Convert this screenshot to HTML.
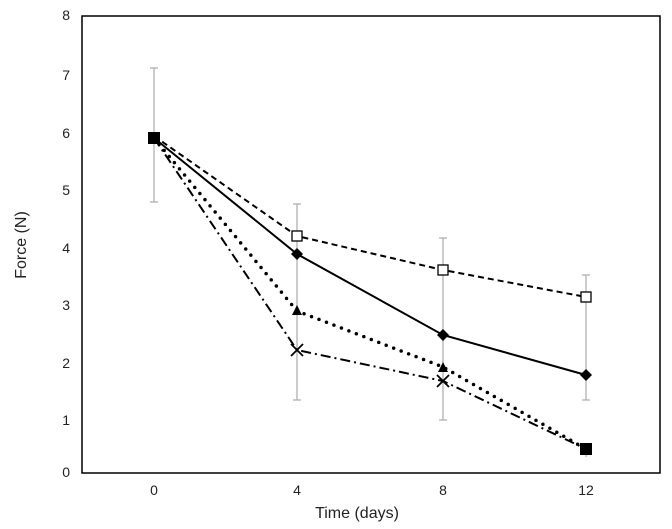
<!DOCTYPE html>
<html><head><meta charset="utf-8"><style>body{margin:0;background:#fff}svg{display:block}text{font-family:"Liberation Sans",sans-serif;fill:#222}</style></head><body>
<svg width="672" height="529" viewBox="0 0 672 529">
<rect x="82" y="16" width="578" height="457" fill="none" stroke="#000" stroke-width="1.5"/>
<g font-size="14" text-anchor="end">
<text x="70" y="477">0</text><text x="70" y="425">1</text><text x="70" y="368">2</text><text x="70" y="310">3</text><text x="70" y="253">4</text><text x="70" y="195">5</text><text x="70" y="138">6</text><text x="70" y="80">7</text><text x="70" y="20">8</text>
</g>
<g font-size="14" text-anchor="middle">
<text x="154" y="495">0</text><text x="297" y="495">4</text><text x="443" y="495">8</text><text x="586" y="495">12</text>
<text x="357" y="518" font-size="16">Time (days)</text>
</g>
<text transform="translate(26,245) rotate(-90)" font-size="16" text-anchor="middle">Force (N)</text>
<g stroke="#aaa" stroke-width="1.2">
<line x1="154" y1="68" x2="154" y2="202"/><line x1="150" y1="68" x2="158" y2="68"/><line x1="150" y1="202" x2="158" y2="202"/>
<line x1="297" y1="204" x2="297" y2="400"/><line x1="293" y1="204" x2="301" y2="204"/><line x1="293" y1="400" x2="301" y2="400"/>
<line x1="443" y1="238" x2="443" y2="420"/><line x1="439" y1="238" x2="447" y2="238"/><line x1="439" y1="420" x2="447" y2="420"/>
<line x1="586" y1="275" x2="586" y2="400"/><line x1="582" y1="275" x2="590" y2="275"/><line x1="582" y1="400" x2="590" y2="400"/>
<line x1="586" y1="443" x2="586" y2="457"/>
</g>
<g fill="none" stroke="#000" stroke-width="2">
<polyline points="154,136 297,236 443,270 586,297" stroke-dasharray="6,4"/>
<polyline points="154,138 297,254 443,335 586,375"/>
<polyline points="154,138 297,311 443,367 586,449" stroke-dasharray="0,8" stroke-linecap="round" stroke-width="3.5"/>
<polyline points="154,138 297,350 443,381 586,449" stroke-dasharray="10,4,2,4"/>
</g>
<rect x="292" y="231" width="10" height="10" fill="#fff" stroke="#000" stroke-width="1.3"/>
<rect x="438" y="265" width="10" height="10" fill="#fff" stroke="#000" stroke-width="1.3"/>
<rect x="581" y="292" width="10" height="10" fill="#fff" stroke="#000" stroke-width="1.3"/>
<g fill="#000">
<polygon points="297,248 303,254 297,260 291,254"/><polygon points="443,329 449,335 443,341 437,335"/><polygon points="586,369 592,375 586,381 580,375"/>
<polygon points="297,305 302,315 292,315"/><polygon points="443,362 448,372 438,372"/>
<rect x="148" y="132" width="12" height="12"/><rect x="580" y="443" width="12" height="12"/>
</g>
<g stroke="#000" stroke-width="1.8"><line x1="291" y1="344" x2="303" y2="356"/><line x1="303" y1="344" x2="291" y2="356"/><line x1="437" y1="375" x2="449" y2="387"/><line x1="449" y1="375" x2="437" y2="387"/></g>
</svg>
</body></html>
